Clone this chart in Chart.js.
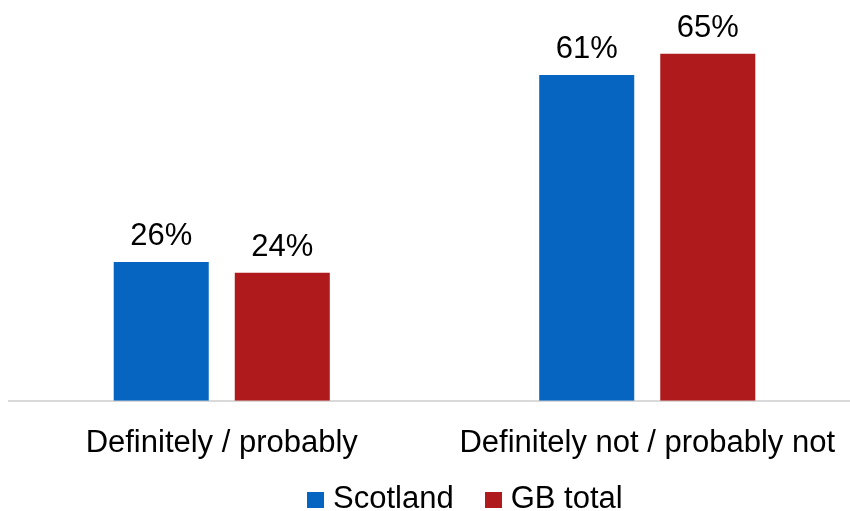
<!DOCTYPE html>
<html>
<head>
<meta charset="utf-8">
<script src="https://cdn.jsdelivr.net/npm/chart.js@4"></script>
<style>
  body { margin: 0; overflow: hidden; background: #fff; }
  #wrap { position: relative; width: 870px; height: 511px; }
  #legend { position: absolute; left: 307px; top: 482px; display: flex; white-space: nowrap;
            font: 31px "Liberation Sans", Arial, sans-serif; line-height: 31px; color: #000; }
  #legend .item { margin-right: 31px; }
  #legend .box { display: inline-block; width: 17px; height: 16px; margin-right: 9px; }
</style>
</head>
<body>
<div id="wrap">
  <canvas id="barChart" width="870" height="511"></canvas>
  <div id="legend"></div>
</div>
<script>
var categories = ['Definitely / probably', 'Definitely not / probably not'];
var seriesNames = ['Scotland', 'GB total'];
var scotland = [26, 61];
var gbTotal = [24, 65];
var colours = ['#0565c0', '#af1b1d'];

var font = '"Liberation Sans", Arial, sans-serif';

// values above each bar
var valueLabels = {
    id: 'valueLabels',
    afterDatasetsDraw: function (chart) {
        var ctx = chart.ctx;
        ctx.save();
        ctx.font = '31px ' + font;
        ctx.fillStyle = '#000';
        ctx.textAlign = 'center';
        ctx.textBaseline = 'alphabetic';
        chart.data.datasets.forEach(function (ds, i) {
            chart.getDatasetMeta(i).data.forEach(function (bar, j) {
                ctx.fillText(ds.data[j] + '%', bar.x, bar.y - 17);
            });
        });
        ctx.restore();
    }
};

var ctx = document.getElementById('barChart').getContext('2d');
var myChart = new Chart(ctx, {
    type: 'bar',
    data: {
        labels: categories,
        datasets: [{
            label: seriesNames[0],
            data: scotland,
            backgroundColor: colours[0]
        }, {
            label: seriesNames[1],
            data: gbTotal,
            backgroundColor: colours[1]
        }]
    },
    options: {
        responsive: false,
        animation: false,
        devicePixelRatio: 1,
        categoryPercentage: 0.569,
        barPercentage: 0.785,
        layout: { padding: { left: 9, right: 10, top: 27, bottom: 25 } },
        plugins: {
            legend: { display: false },
            tooltip: { enabled: false }
        },
        scales: {
            x: {
                grid: { display: false, drawTicks: false },
                border: { display: true, color: '#d9d9d9', width: 2 },
                ticks: { color: '#000', padding: 24, font: { size: 31, family: font } }
            },
            y: {
                display: false,
                min: 0,
                max: 70
            }
        }
    },
    plugins: [valueLabels]
});

// legend built from the datasets
var legend = document.getElementById('legend');
myChart.data.datasets.forEach(function (ds) {
    var item = document.createElement('span');
    item.className = 'item';
    var box = document.createElement('span');
    box.className = 'box';
    box.style.background = ds.backgroundColor;
    item.appendChild(box);
    item.appendChild(document.createTextNode(ds.label));
    legend.appendChild(item);
});
</script>
</body>
</html>
